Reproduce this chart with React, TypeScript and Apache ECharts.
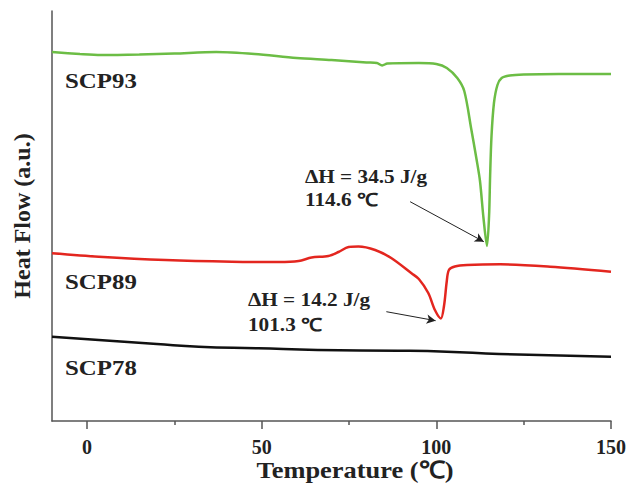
import React, { useEffect, useRef } from "react";
import * as echarts from "echarts";

// Temperature (°C) and heat flow (a.u.) readings
const tempSCP93 = [-10, -2, 4, 15, 25, 37, 48, 60, 70, 80, 83, 84.5, 86, 95, 100, 103, 106, 108, 110, 111.5, 112.5, 113.5, 114.5, 115.1, 115.4, 115.8, 116.5, 117.5, 118.7, 121, 125, 135, 150];
const heatSCP93 = [369, 367, 366, 366.5, 367.5, 369, 367, 363, 361, 358.5, 358, 355.5, 357.5, 358, 357, 353, 343, 330, 292, 262, 240, 203, 175, 205, 245, 285, 318, 336, 343, 345.5, 346.5, 347, 347];

const tempSCP89 = [-10, 3.4, 22.5, 41.5, 54.9, 60.6, 64.3, 69.1, 72, 74.9, 77.7, 82.5, 87.2, 92.9, 95, 97.7, 99.6, 101.3, 102.2, 103, 103.6, 105.3, 108.8, 118.3, 132.6, 150];
const heatSCP89 = [167.7, 164.3, 161, 159.3, 159, 160, 163.5, 165, 169, 174, 174.5, 171, 162.7, 147.7, 142, 128, 111, 102.5, 115, 140, 151, 154.5, 156, 156.7, 154.3, 149.3];

const tempSCP78 = [-10, 3.4, 20, 32, 49, 66, 89, 103, 118, 150];
const heatSCP78 = [84.3, 81, 77, 74.3, 72.7, 71, 70.3, 69.3, 67, 64.3];

const majorTicks = [0, 50, 100, 150];
const minorTicks = [25, 75, 125];

// Arrow annotations [from, to] in data coordinates
const arrow93 = [[92.5, 219.3], [113.6, 179.3]];
const arrow89 = [[85.7, 109.3], [99.8, 100.3]];

const FONT = '"Liberation Serif", "Times New Roman", serif';

const zip = (t: number[], v: number[]) => t.map((x, i) => [x, v[i]]);

const arrowLine = (a: number[][]) => ({
  silent: true,
  symbol: ["none", "arrow"],
  symbolSize: [7, 9],
  lineStyle: { color: "#222", width: 1, type: "solid" },
  label: { show: false },
  emphasis: { disabled: true },
  data: [[{ coord: a[0] }, { coord: a[1] }]],
});

const txt = (text: string, x: number, y: number, size: number, sx: number, align = "left") => ({
  type: "text",
  x,
  y,
  scaleX: sx,
  silent: true,
  style: {
    text,
    fontFamily: FONT,
    fontWeight: "bold",
    fontSize: size,
    fill: "#222",
    align,
    verticalAlign: "middle",
  },
});

export default function App() {
  const ref = useRef<HTMLDivElement>(null);
  useEffect(() => {
    if (!ref.current) return;
    const chart = echarts.init(ref.current, undefined, { renderer: "svg" });
    const axisColor = "#555";
    chart.setOption({
      animation: false,
      backgroundColor: "#fff",
      grid: { left: 52, right: 16, top: 11, bottom: 65 },
      xAxis: [
        {
          type: "value",
          min: -10,
          max: 150,
          position: "bottom",
          axisLine: { show: true, onZero: false, lineStyle: { color: axisColor, width: 1.5 } },
          axisTick: { show: true, customValues: majorTicks, length: 8, lineStyle: { color: axisColor, width: 1.5 } },
          axisLabel: {
            customValues: majorTicks,
            margin: 16,
            fontFamily: FONT,
            fontWeight: "bold",
            fontSize: 20,
            color: "#222",
          },
          splitLine: { show: false },
        },
        {
          type: "value",
          min: -10,
          max: 150,
          position: "bottom",
          axisLine: { show: false, onZero: false },
          axisTick: { show: true, customValues: minorTicks, length: 4, lineStyle: { color: axisColor, width: 1.5 } },
          axisLabel: { show: false },
          splitLine: { show: false },
        },
      ],
      yAxis: {
        type: "value",
        min: 0,
        max: 410,
        axisLine: { show: true, onZero: false, lineStyle: { color: axisColor, width: 1.5 } },
        axisTick: { show: false },
        axisLabel: { show: false },
        splitLine: { show: false },
        name: "Heat Flow (a.u.)",
        nameLocation: "middle",
        nameGap: 18,
        nameRotate: 90,
        nameTextStyle: { fontFamily: FONT, fontWeight: "bold", fontSize: 24, color: "#222" },
      },
      series: [
        {
          name: "SCP93",
          type: "line",
          data: zip(tempSCP93, heatSCP93),
          showSymbol: false,
          smooth: 0.3,
          lineStyle: { color: "#6cbd45", width: 2.5 },
          markLine: arrowLine(arrow93),
        },
        {
          name: "SCP89",
          type: "line",
          data: zip(tempSCP89, heatSCP89),
          showSymbol: false,
          smooth: 0.3,
          lineStyle: { color: "#e3261f", width: 2.5 },
          markLine: arrowLine(arrow89),
        },
        {
          name: "SCP78",
          type: "line",
          data: zip(tempSCP78, heatSCP78),
          showSymbol: false,
          smooth: 0.5,
          lineStyle: { color: "#111", width: 2.5 },
        },
      ],
      graphic: [
        txt("SCP93", 65, 81, 22, 1.13),
        txt("SCP89", 65, 282, 22, 1.13),
        txt("SCP78", 65, 368, 22, 1.13),
        txt("ΔH = 34.5 J/g", 305, 177, 18, 1.18),
        txt("114.6 ℃", 305, 200, 18, 1.18),
        txt("ΔH = 14.2 J/g", 248, 300, 18, 1.18),
        txt("101.3 ℃", 248, 325, 18, 1.18),
        txt("Temperature (℃)", 355, 470, 24, 1.1, "center"),
      ],
    });
    return () => chart.dispose();
  }, []);
  return (
    <div
      ref={ref}
      style={{ position: "fixed", left: 0, top: 0, width: 629, height: 486, background: "#fff" }}
    />
  );
}
